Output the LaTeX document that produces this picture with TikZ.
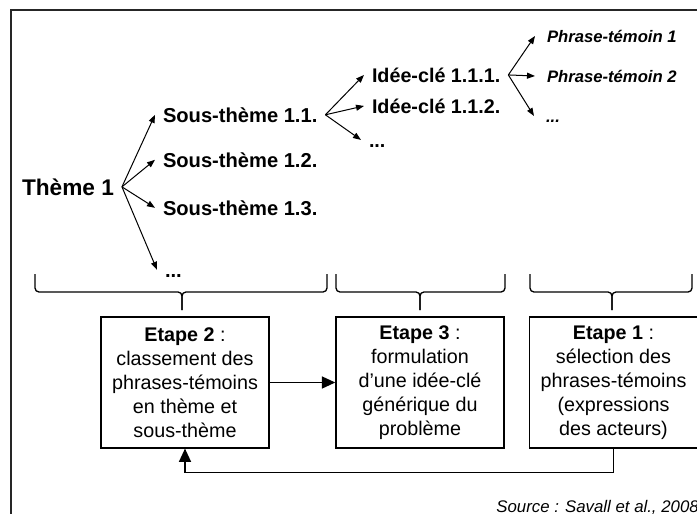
\documentclass[tikz,border=0pt]{standalone}
\usepackage{fontspec}
\setmainfont{Liberation Sans}
\usetikzlibrary{positioning,arrows.meta}

\begin{document}
\begin{tikzpicture}[x=0.75pt,y=-0.75pt,
        tn/.style={inner sep=0pt, outer xsep=6pt, text depth=0pt, anchor=text},
        th/.style={tn, text height=12.2pt, font=\bfseries\fontsize{17}{20}\selectfont},
        st/.style={tn, text height=10.8pt, font=\bfseries\fontsize{15.1}{18}\selectfont},
        idc/.style={tn, text height=10.6pt, font=\bfseries\fontsize{14.8}{18}\selectfont},
        ph/.style={tn, outer xsep=9pt, text height=9pt, font=\bfseries\itshape\fontsize{12.5}{15}\selectfont},
        bx/.style={draw, line width=1.1pt, minimum width=126pt, minimum height=98pt,
            inner sep=0pt, align=center, font=\fontsize{14.8}{18}\selectfont},
        arr/.style={-{Triangle[length=6pt,width=4.5pt]}, line width=0.75pt},
        bigarr/.style={-{Triangle[length=10pt,width=9pt]}, line width=1.1pt},
        brc/.style={rounded corners=3pt, line width=1pt}
    ]
    \useasboundingbox (0,0) rectangle (697,514);

    % outer frame
    \draw[line width=1.1pt, black!85] (11,514) |- (697,10);

    % theme and sub-themes
    \node[th] (T1) at (22,195) {Thème 1};
    \node[st] (S11) at (163,122) {Sous-thème 1.1.};
    \node[st] (S12) at (163,167) {Sous-thème 1.2.};
    \node[st] (S13) at (163,215) {Sous-thème 1.3.};
    \node[st] (S14) at (165,277) {...};

    % key ideas
    \node[idc] (I11) at (372,82)  {Idée-clé 1.1.1.};
    \node[idc] (I12) at (372,113) {Idée-clé 1.1.2.};
    \node[idc] (I13) at (369,147) {...};

    % witness phrases
    \node[ph] (P1) at (547,42)  {Phrase-témoin 1};
    \node[ph] (P2) at (547,82)  {Phrase-témoin 2};
    \node[ph] (P3) at (546,122) {...};

    % fans
    \foreach \c in {S11,S12,S13,S14}
        \draw[arr] (T1.east) -- (\c.west);
    \foreach \c in {I11,I12,I13}
        \draw[arr] (S11.east) -- (\c.west);
    \foreach \c in {P1,P2,P3}
        \draw[arr] (I11.east) -- (\c.west);

    % braces
    \foreach \l/\m/\r in {35/182/327, 336/420/505, 530/612/692}{
        \draw[brc] (\l,274) |- (\m,292) -- (\m,310);
        \draw[brc] (\r,274) |- (\m,292) -- (\m,310);
    }

    % steps
    \node[bx] (E2) at (185,382.5)   {\textbf{Etape 2} :\\classement des\\phrases-témoins\\en thème et\\sous-thème};
    \node[bx] (E3) at (420,382.5)   {\textbf{Etape 3} :\\formulation\\d’une idée-clé\\générique du\\problème};
    \node[bx] (E1) at (613.5,382.5) {\textbf{Etape 1} :\\sélection des\\phrases-témoins\\(expressions\\des acteurs)};

    \draw[bigarr] (E2) -- (E3);
    \draw[bigarr] (E1.south) -- ++(0,24) -| (E2.south);

    % source
    \node[anchor=base east, inner sep=0pt, font=\itshape\fontsize{12.6}{15}\selectfont] (src) at (699,512)
        {Source : Savall et al., 2008};
\end{tikzpicture}
\end{document}
